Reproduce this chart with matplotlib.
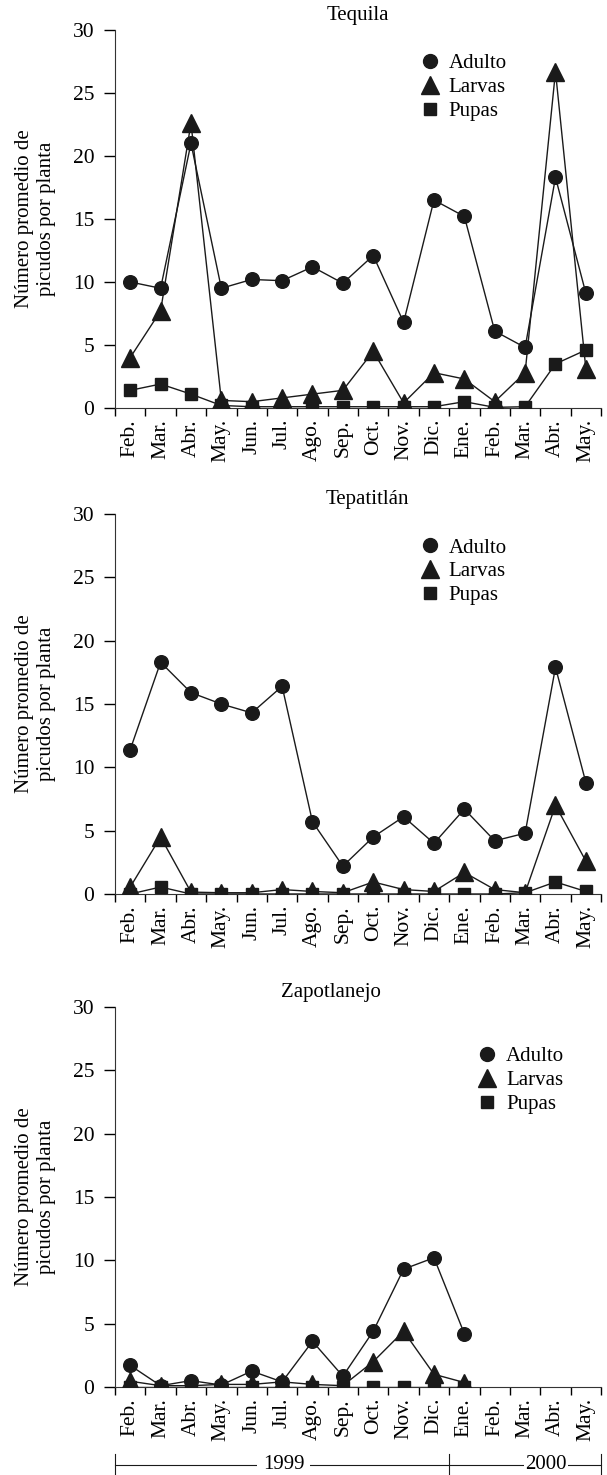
# coding:utf-8
# Número promedio de picudos por planta, tres localidades (1999-2000)

import numpy as np
import matplotlib.pyplot as plt
from matplotlib.lines import Line2D

plt.rcParams["font.family"] = ["Liberation Serif", "DejaVu Serif"]

meses = ["Feb.", "Mar.", "Abr.", "May.", "Jun.", "Jul.", "Ago.", "Sep.",
         "Oct.", "Nov.", "Dic.", "Ene.", "Feb.", "Mar.", "Abr.", "May."]

# Tequila
teq_adulto = [10.0, 9.5, 21.0, 9.5, 10.2, 10.1, 11.2, 9.9, 12.1, 6.8, 16.5, 15.2, 6.1, 4.8, 18.3, 9.1]
teq_larvas = [4.0, 7.7, 22.6, 0.6, 0.5, 0.8, 1.1, 1.4, 4.5, 0.4, 2.8, 2.3, 0.5, 2.8, 26.7, 3.1]
teq_pupas = [1.4, 1.9, 1.1, 0.2, 0.1, 0.1, 0.1, 0.1, 0.1, 0.1, 0.1, 0.5, 0.05, 0.1, 3.5, 4.6]

# Tepatitlán
tep_adulto = [11.4, 18.3, 15.9, 15.0, 14.3, 16.4, 5.7, 2.2, 4.5, 6.1, 4.0, 6.7, 4.2, 4.8, 17.9, 8.8]
tep_larvas = [0.55, 4.5, 0.15, 0.1, 0.1, 0.35, 0.2, 0.1, 0.95, 0.35, 0.2, 1.7, 0.35, 0.1, 7.0, 2.6]
tep_pupas = [0.0, 0.55, 0.0, 0.0, 0.0, 0.0, 0.0, 0.0, 0.0, 0.0, 0.0, 0.0, 0.0, 0.1, 0.95, 0.2]

# Zapotlanejo (sin datos despues de Ene.)
zap_adulto = [1.7, 0.1, 0.5, 0.15, 1.25, 0.4, 3.6, 0.85, 4.4, 9.3, 10.2, 4.2]
zap_larvas = [0.45, 0.1, 0.1, 0.2, 0.2, 0.4, 0.2, 0.1, 2.0, 4.4, 1.0, 0.35]
zap_pupas = [0.0, 0.0, 0.0, 0.0, 0.0, 0.0, 0.0, 0.0, 0.0, 0.0, 0.0, 0.0]

color = "#1a1a1a"


def draw(ax, titulo, adulto, larvas, pupas, leg_pos, title_x=0.5):
    x = np.arange(len(adulto))
    ax.plot(x, pupas, color=color, lw=1, marker="s", ms=9, zorder=3)
    ax.plot(x, larvas, color=color, lw=1, marker="^", ms=13, zorder=4)
    ax.plot(x, adulto, color=color, lw=1, marker="o", ms=9.8, zorder=5)
    ax.set_xlim(-0.5, 15.5)
    ax.set_ylim(0, 30)
    ax.set_yticks(range(0, 31, 5))
    ax.set_xticks(np.arange(-0.5, 16, 1))
    ax.set_xticklabels([])
    ax.set_xticks(np.arange(16), minor=True)
    ax.set_xticklabels(meses, minor=True, rotation=90, fontsize=15.5)
    ax.tick_params(axis="x", which="minor", length=0, pad=8)
    ax.tick_params(axis="x", which="major", length=6, direction="out", width=1)
    ax.tick_params(axis="y", length=8, width=1, labelsize=15.5, pad=7)
    for s in ["top", "right"]:
        ax.spines[s].set_visible(False)
    ax.spines["left"].set_color("#333333")
    ax.spines["bottom"].set_color("#333333")
    ax.set_title(titulo, fontsize=15, x=title_x, pad=7)
    ax.set_ylabel("Número promedio de\npicudos por planta", fontsize=15, labelpad=12)
    handles = [Line2D([], [], ls="none", marker="o", ms=10, color=color),
               Line2D([], [], ls="none", marker="^", ms=13, color=color),
               Line2D([], [], ls="none", marker="s", ms=9, color=color)]
    ax.legend(handles, ["Adulto", "Larvas", "Pupas"], loc="upper left",
              bbox_to_anchor=leg_pos, frameon=False, fontsize=15,
              handletextpad=0.3, labelspacing=0.2, borderpad=0,
              borderaxespad=0, handlelength=1.2)


fig = plt.figure(figsize=(6.07, 14.75), dpi=100)
ax1 = fig.add_axes([0.1895, 0.7234, 0.8007, 0.2563])
ax2 = fig.add_axes([0.1895, 0.3939, 0.8007, 0.2576])
ax3 = fig.add_axes([0.1895, 0.0597, 0.8007, 0.2576])

draw(ax1, "Tequila", teq_adulto, teq_larvas, teq_pupas, (0.622, 0.937))
draw(ax2, "Tepatitlán", tep_adulto, tep_larvas, tep_pupas, (0.622, 0.937), title_x=0.52)
draw(ax3, "Zapotlanejo", zap_adulto, zap_larvas, zap_pupas, (0.74, 0.895), title_x=0.444)

# años debajo del ultimo grafico
tr = ax3.get_xaxis_transform()
y_an = -0.205
ax3.plot([-0.5, 15.5], [y_an, y_an], color=color, lw=0.8, transform=tr, clip_on=False)
for xv in [-0.5, 10.5, 15.5]:
    ax3.plot([xv, xv], [y_an - 0.029, y_an + 0.029], color=color, lw=0.8,
             transform=tr, clip_on=False)
ax3.text(5.05, y_an, "1999", transform=tr, ha="center", va="center", fontsize=15,
         bbox=dict(facecolor="white", edgecolor="none", pad=4))
ax3.text(13.68, y_an, "2000", transform=tr, ha="center", va="center", fontsize=15,
         bbox=dict(facecolor="white", edgecolor="none", pad=1))

plt.savefig("out.png", dpi=100)
